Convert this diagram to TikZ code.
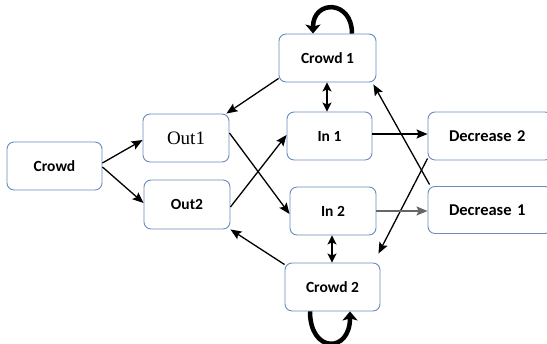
\documentclass[tikz,border=0pt]{standalone}
\usepackage{fontspec}
\setmainfont{Carlito}
\newfontfamily\serifout{Liberation Serif}
\usetikzlibrary{arrows.meta}
\definecolor{boxblue}{RGB}{104,140,190}
\begin{document}
\begin{tikzpicture}[x=1pt,y=1pt,
  box/.style={draw=boxblue,line width=0.9pt,rounded corners=7pt,fill=white,
    inner sep=0pt,font=\bfseries\fontsize{15.5}{17}\selectfont},
  arr/.style={line width=1.3pt,-{Stealth[length=11pt,width=9pt,inset=2pt]}},
  darr/.style={line width=1.3pt,{Stealth[length=9pt,width=9pt,inset=2pt]}-{Stealth[length=9pt,width=9pt,inset=2pt]}},
  selfloop/.style={line width=4.5pt,-{Stealth[length=9pt,width=15pt,inset=2pt]}}]
\useasboundingbox (0,0) rectangle (547,344);
\node[box,minimum width=95pt,minimum height=48pt] (crowd) at (54.5,178) {Crowd};
\node[box,minimum width=86pt,minimum height=48pt,font=\serifout\fontsize{19}{21}\selectfont] (out1) at (186,206) {Out1};
\node[box,minimum width=86pt,minimum height=49pt] (out2) at (187,139.5) {Out2};
\node[box,minimum width=97pt,minimum height=48pt] (c1) at (327.5,286) {Crowd 1};
\node[box,minimum width=85pt,minimum height=48pt] (in1) at (329.5,208) {In 1};
\node[box,minimum width=124pt,minimum height=48pt,text width=117pt,align=left,font=\bfseries\fontsize{16.5}{18}\selectfont] (dec2) at (490,208) {\hspace*{17.5pt}Decrease 2};
\node[box,minimum width=86pt,minimum height=48pt] (in2) at (333,133) {In 2};
\node[box,minimum width=124pt,minimum height=47pt,text width=117pt,align=left,font=\bfseries\fontsize{16.5}{18}\selectfont] (dec1) at (490,134) {\hspace*{17.5pt}Decrease 1};
\node[box,minimum width=95pt,minimum height=48pt] (c2) at (332.5,57) {Crowd 2};
% connectors
\draw[arr] ([yshift=3]crowd.east) -- ([yshift=-2]out1.west);
\draw[arr] ([yshift=-1]crowd.east) -- ([yshift=1.5]out2.west);
\draw[arr] ([yshift=4]c1.south west) -- ([xshift=-3]out1.north east);
\draw[arr] ([yshift=5]out1.east) -- ([yshift=-3]in2.west);
\draw[arr] ([yshift=-2.5]out2.east) -- ([yshift=1]in1.west);
\draw[darr] ([xshift=-0.5]c1.south) -- ([xshift=-0.5]c1.south |- in1.north);
\draw[arr] ([yshift=2]in1.east) -- ([yshift=2]dec2.west);
\draw[arr] ([xshift=2,yshift=1.5]dec1.north west) -- ([xshift=-3,yshift=-2]c1.south east);
\draw[arr] ([yshift=2]dec2.south west) -- ([xshift=-2,yshift=9]c2.north east);
\draw[arr,draw=black!60] (in2.east) -- (dec1.west |- in2.east);
\draw[darr] ([xshift=-1]in2.south) -- ([xshift=-1]in2.south |- c2.north);
\draw[arr] ([yshift=-2]c2.north west) -- (out2.south east);
% self loops
\draw[selfloop] ([xshift=24.5]c1.north) .. controls +(0,34) and +(0,34) .. ([xshift=-14.5]c1.north);
\draw[selfloop] ([xshift=-22.5]c2.south) .. controls +(0,-42) and +(0,-42) .. ([xshift=17.5]c2.south);
\end{tikzpicture}
\end{document}
